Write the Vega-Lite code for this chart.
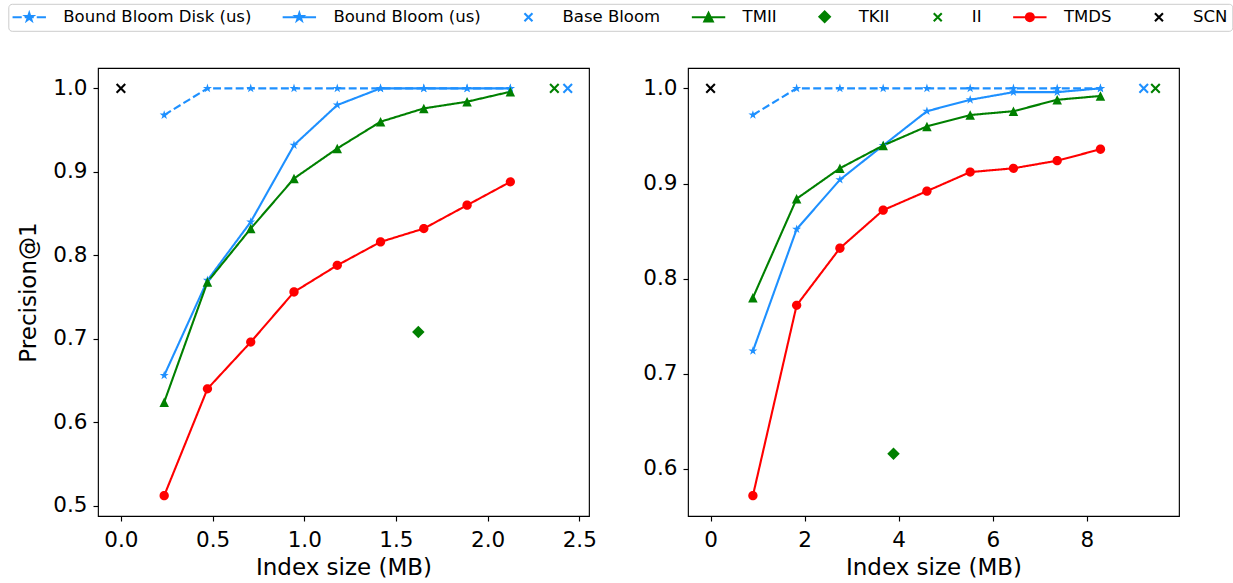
{
  "$schema": "https://vega.github.io/schema/vega-lite/v6.json",
  "background": "white",
  "padding": {"left": 7, "top": 3, "right": 0, "bottom": 0},
  "autosize": {"type": "pad"},
  "config": {
    "font": "DejaVu Sans",
    "view": {"stroke": "black", "strokeWidth": 1.15},
    "axis": {"grid": false, "domain": false, "ticks": true, "tickSize": 5, "tickWidth": 1.15, "tickColor": "black", "labelFont": "DejaVu Sans", "labelFontSize": 21.5, "labelColor": "black", "labelPadding": 6, "labelFlush": false, "labelOverlap": false, "titleFont": "DejaVu Sans", "titleFontSize": 23, "titleFontWeight": "normal", "titleColor": "black"},
    "axisX": {"labelPadding": 8, "titlePadding": 6},
    "axisY": {"titlePadding": 12}
  },
  "data": {"values": [
    {"p": "L", "s": "Bound Bloom Disk (us)", "x": 0.236, "y": 0.968},
    {"p": "L", "s": "Bound Bloom Disk (us)", "x": 0.472, "y": 1.0},
    {"p": "L", "s": "Bound Bloom Disk (us)", "x": 0.708, "y": 1.0},
    {"p": "L", "s": "Bound Bloom Disk (us)", "x": 0.944, "y": 1.0},
    {"p": "L", "s": "Bound Bloom Disk (us)", "x": 1.18, "y": 1.0},
    {"p": "L", "s": "Bound Bloom Disk (us)", "x": 1.416, "y": 1.0},
    {"p": "L", "s": "Bound Bloom Disk (us)", "x": 1.652, "y": 1.0},
    {"p": "L", "s": "Bound Bloom Disk (us)", "x": 1.888, "y": 1.0},
    {"p": "L", "s": "Bound Bloom Disk (us)", "x": 2.124, "y": 1.0},
    {"p": "L", "s": "Bound Bloom (us)", "x": 0.236, "y": 0.656},
    {"p": "L", "s": "Bound Bloom (us)", "x": 0.472, "y": 0.77},
    {"p": "L", "s": "Bound Bloom (us)", "x": 0.708, "y": 0.84},
    {"p": "L", "s": "Bound Bloom (us)", "x": 0.944, "y": 0.932},
    {"p": "L", "s": "Bound Bloom (us)", "x": 1.18, "y": 0.98},
    {"p": "L", "s": "Bound Bloom (us)", "x": 1.416, "y": 1.0},
    {"p": "L", "s": "Bound Bloom (us)", "x": 1.652, "y": 1.0},
    {"p": "L", "s": "Bound Bloom (us)", "x": 1.888, "y": 1.0},
    {"p": "L", "s": "Bound Bloom (us)", "x": 2.124, "y": 1.0},
    {"p": "L", "s": "Base Bloom", "x": 2.437, "y": 1.0},
    {"p": "L", "s": "TMII", "x": 0.236, "y": 0.624},
    {"p": "L", "s": "TMII", "x": 0.472, "y": 0.768},
    {"p": "L", "s": "TMII", "x": 0.708, "y": 0.832},
    {"p": "L", "s": "TMII", "x": 0.944, "y": 0.892},
    {"p": "L", "s": "TMII", "x": 1.18, "y": 0.928},
    {"p": "L", "s": "TMII", "x": 1.416, "y": 0.96},
    {"p": "L", "s": "TMII", "x": 1.652, "y": 0.976},
    {"p": "L", "s": "TMII", "x": 1.888, "y": 0.984},
    {"p": "L", "s": "TMII", "x": 2.124, "y": 0.996},
    {"p": "L", "s": "TKII", "x": 1.622, "y": 0.708},
    {"p": "L", "s": "II", "x": 2.364, "y": 1.0},
    {"p": "L", "s": "TMDS", "x": 0.236, "y": 0.512},
    {"p": "L", "s": "TMDS", "x": 0.472, "y": 0.64},
    {"p": "L", "s": "TMDS", "x": 0.708, "y": 0.696},
    {"p": "L", "s": "TMDS", "x": 0.944, "y": 0.756},
    {"p": "L", "s": "TMDS", "x": 1.18, "y": 0.788},
    {"p": "L", "s": "TMDS", "x": 1.416, "y": 0.816},
    {"p": "L", "s": "TMDS", "x": 1.652, "y": 0.832},
    {"p": "L", "s": "TMDS", "x": 1.888, "y": 0.86},
    {"p": "L", "s": "TMDS", "x": 2.124, "y": 0.888},
    {"p": "L", "s": "SCN", "x": 0.0, "y": 1.0},
    {"p": "R", "s": "Bound Bloom Disk (us)", "x": 0.9, "y": 0.972},
    {"p": "R", "s": "Bound Bloom Disk (us)", "x": 1.83, "y": 1.0},
    {"p": "R", "s": "Bound Bloom Disk (us)", "x": 2.75, "y": 1.0},
    {"p": "R", "s": "Bound Bloom Disk (us)", "x": 3.67, "y": 1.0},
    {"p": "R", "s": "Bound Bloom Disk (us)", "x": 4.6, "y": 1.0},
    {"p": "R", "s": "Bound Bloom Disk (us)", "x": 5.52, "y": 1.0},
    {"p": "R", "s": "Bound Bloom Disk (us)", "x": 6.44, "y": 1.0},
    {"p": "R", "s": "Bound Bloom Disk (us)", "x": 7.37, "y": 1.0},
    {"p": "R", "s": "Bound Bloom Disk (us)", "x": 8.29, "y": 1.0},
    {"p": "R", "s": "Bound Bloom (us)", "x": 0.9, "y": 0.724},
    {"p": "R", "s": "Bound Bloom (us)", "x": 1.83, "y": 0.852},
    {"p": "R", "s": "Bound Bloom (us)", "x": 2.75, "y": 0.904},
    {"p": "R", "s": "Bound Bloom (us)", "x": 3.67, "y": 0.94},
    {"p": "R", "s": "Bound Bloom (us)", "x": 4.6, "y": 0.976},
    {"p": "R", "s": "Bound Bloom (us)", "x": 5.52, "y": 0.988},
    {"p": "R", "s": "Bound Bloom (us)", "x": 6.44, "y": 0.996},
    {"p": "R", "s": "Bound Bloom (us)", "x": 7.37, "y": 0.996},
    {"p": "R", "s": "Bound Bloom (us)", "x": 8.29, "y": 1.0},
    {"p": "R", "s": "Base Bloom", "x": 9.21, "y": 1.0},
    {"p": "R", "s": "TMII", "x": 0.9, "y": 0.78},
    {"p": "R", "s": "TMII", "x": 1.83, "y": 0.884},
    {"p": "R", "s": "TMII", "x": 2.75, "y": 0.916},
    {"p": "R", "s": "TMII", "x": 3.67, "y": 0.94},
    {"p": "R", "s": "TMII", "x": 4.6, "y": 0.96},
    {"p": "R", "s": "TMII", "x": 5.52, "y": 0.972},
    {"p": "R", "s": "TMII", "x": 6.44, "y": 0.976},
    {"p": "R", "s": "TMII", "x": 7.37, "y": 0.988},
    {"p": "R", "s": "TMII", "x": 8.29, "y": 0.992},
    {"p": "R", "s": "TKII", "x": 3.89, "y": 0.616},
    {"p": "R", "s": "II", "x": 9.46, "y": 1.0},
    {"p": "R", "s": "TMDS", "x": 0.9, "y": 0.572},
    {"p": "R", "s": "TMDS", "x": 1.83, "y": 0.772},
    {"p": "R", "s": "TMDS", "x": 2.75, "y": 0.832},
    {"p": "R", "s": "TMDS", "x": 3.67, "y": 0.872},
    {"p": "R", "s": "TMDS", "x": 4.6, "y": 0.892},
    {"p": "R", "s": "TMDS", "x": 5.52, "y": 0.912},
    {"p": "R", "s": "TMDS", "x": 6.44, "y": 0.916},
    {"p": "R", "s": "TMDS", "x": 7.37, "y": 0.924},
    {"p": "R", "s": "TMDS", "x": 8.29, "y": 0.936},
    {"p": "R", "s": "SCN", "x": 0.0, "y": 1.0}
  ]},
  "spacing": 45,
  "hconcat": [
    {
      "width": 491, "height": 448,
      "transform": [{"filter": "datum.p === 'L'"}],
      "encoding": {
        "x": {"field": "x", "type": "quantitative", "scale": {"domain": [-0.125, 2.553], "nice": false, "zero": false}, "axis": {"values": [0, 0.5, 1, 1.5, 2, 2.5], "format": ".1f", "title": "Index size (MB)"}},
        "y": {"field": "y", "type": "quantitative", "scale": {"domain": [0.4876, 1.0244], "nice": false, "zero": false}, "axis": {"values": [0.5, 0.6, 0.7, 0.8, 0.9, 1.0], "format": ".1f", "title": "Precision@1"}},
        "color": {"field": "s", "type": "nominal",
          "scale": {"domain": ["Bound Bloom Disk (us)", "Bound Bloom (us)", "Base Bloom", "TMII", "TKII", "II", "TMDS", "SCN"], "range": ["#1E90FF", "#1E90FF", "#1E90FF", "#008000", "#008000", "#008000", "#FF0000", "#000000"]},
          "legend": {"title": null, "orient": "none", "legendX": -89.7, "legendY": -64.2, "direction": "horizontal", "columns": 8, "symbolSize": 100, "symbolOffset": 8.2, "labelOffset": 25.8, "columnPadding": 26.1, "rowPadding": 0, "padding": 4.5, "strokeColor": "#cccccc", "fillColor": "rgba(255,255,255,0.8)", "cornerRadius": 3.5, "labelFont": "DejaVu Sans", "labelFontSize": 16.5, "labelColor": "black", "labelLimit": 400,
            "encode": {"symbols": {"update": {
              "shape": {"signal": "datum.value === 'Bound Bloom Disk (us)' ? 'M-3.34,0L-1.5,0M-0.9,0L0.9,0M1.5,0L3.34,0M0,-0.8L0.18,-0.25L0.76,-0.25L0.29,0.09L0.47,0.65L0,0.31L-0.47,0.65L-0.29,0.09L-0.76,-0.25L-0.18,-0.25Z' : datum.value === 'Bound Bloom (us)' ? 'M-3.34,0L3.34,0M0,-0.8L0.18,-0.25L0.76,-0.25L0.29,0.09L0.47,0.65L0,0.31L-0.47,0.65L-0.29,0.09L-0.76,-0.25L-0.18,-0.25Z' : datum.value === 'TMII' ? 'M-3.34,0L3.34,0M0,-0.85L0.85,0.85L-0.85,0.85Z' : datum.value === 'TKII' ? 'M-3.34,0L-3.34,0M3.34,0L3.34,0M0,-1.05L1.05,0L0,1.05L-1.05,0Z' : datum.value === 'TMDS' ? 'M-3.34,0L3.34,0M-0.8,0A0.8,0.8,0,1,0,0.8,0A0.8,0.8,0,1,0,-0.8,0Z' : 'M-3.34,0L-3.34,0M3.34,0L3.34,0M-0.8,-0.8L0.8,0.8M-0.8,0.8L0.8,-0.8'"},
              "fill": {"signal": "scale('color', datum.value)"},
              "stroke": {"signal": "scale('color', datum.value)"},
              "strokeWidth": {"value": 2.1},
              "size": {"value": 100},
              "opacity": {"value": 1}
            }}}
          }
        }
      },
      "layer": [
        {
          "transform": [{"filter": {"field": "s", "oneOf": ["Bound Bloom Disk (us)", "Bound Bloom (us)", "TMII", "TMDS"]}}],
          "mark": {"type": "line", "strokeWidth": 2.1},
          "encoding": {"strokeDash": {"field": "s", "type": "nominal", "scale": {"domain": ["Bound Bloom Disk (us)", "Bound Bloom (us)", "TMII", "TMDS"], "range": [[7.9, 3.4], [1, 0], [1, 0], [1, 0]]}, "legend": null}}
        },
        {
          "transform": [{"filter": {"field": "s", "oneOf": ["Bound Bloom Disk (us)", "Bound Bloom (us)", "TMII", "TKII", "TMDS"]}}],
          "mark": {"type": "point", "filled": true, "size": 100, "opacity": 1},
          "encoding": {"shape": {"field": "s", "type": "nominal", "scale": {"domain": ["Bound Bloom Disk (us)", "Bound Bloom (us)", "TMII", "TKII", "TMDS"], "range": ["M0,-0.95L0.213,-0.294L0.903,-0.294L0.345,0.112L0.559,0.769L0,0.363L-0.559,0.769L-0.345,0.112L-0.903,-0.294L-0.213,-0.294Z", "M0,-0.95L0.213,-0.294L0.903,-0.294L0.345,0.112L0.559,0.769L0,0.363L-0.559,0.769L-0.345,0.112L-0.903,-0.294L-0.213,-0.294Z", "M0,-0.95L0.95,0.95L-0.95,0.95Z", "M0,-1.25L1.25,0L0,1.25L-1.25,0Z", "M-0.93,0A0.93,0.93,0,1,0,0.93,0A0.93,0.93,0,1,0,-0.93,0Z"]}, "legend": null}}
        },
        {
          "transform": [{"filter": {"field": "s", "oneOf": ["Base Bloom", "II", "SCN"]}}],
          "mark": {"type": "point", "filled": false, "shape": "M-0.86,-0.86L0.86,0.86M-0.86,0.86L0.86,-0.86", "size": 100, "strokeWidth": 2.1, "opacity": 1}
        }
      ]
    },
    {
      "width": 491, "height": 448,
      "transform": [{"filter": "datum.p === 'R'"}],
      "encoding": {
        "x": {"field": "x", "type": "quantitative", "scale": {"domain": [-0.48, 9.96], "nice": false, "zero": false}, "axis": {"values": [0, 2, 4, 6, 8], "format": "d", "title": "Index size (MB)"}},
        "y": {"field": "y", "type": "quantitative", "scale": {"domain": [0.5506, 1.0214], "nice": false, "zero": false}, "axis": {"values": [0.6, 0.7, 0.8, 0.9, 1.0], "format": ".1f", "title": null}},
        "color": {"field": "s", "type": "nominal",
          "scale": {"domain": ["Bound Bloom Disk (us)", "Bound Bloom (us)", "Base Bloom", "TMII", "TKII", "II", "TMDS", "SCN"], "range": ["#1E90FF", "#1E90FF", "#1E90FF", "#008000", "#008000", "#008000", "#FF0000", "#000000"]},
          "legend": {"title": null, "orient": "none", "legendX": -89.7, "legendY": -64.2, "direction": "horizontal", "columns": 8, "symbolSize": 100, "symbolOffset": 8.2, "labelOffset": 25.8, "columnPadding": 26.1, "rowPadding": 0, "padding": 4.5, "strokeColor": "#cccccc", "fillColor": "rgba(255,255,255,0.8)", "cornerRadius": 3.5, "labelFont": "DejaVu Sans", "labelFontSize": 16.5, "labelColor": "black", "labelLimit": 400,
            "encode": {"symbols": {"update": {
              "shape": {"signal": "datum.value === 'Bound Bloom Disk (us)' ? 'M-3.34,0L-1.5,0M-0.9,0L0.9,0M1.5,0L3.34,0M0,-0.8L0.18,-0.25L0.76,-0.25L0.29,0.09L0.47,0.65L0,0.31L-0.47,0.65L-0.29,0.09L-0.76,-0.25L-0.18,-0.25Z' : datum.value === 'Bound Bloom (us)' ? 'M-3.34,0L3.34,0M0,-0.8L0.18,-0.25L0.76,-0.25L0.29,0.09L0.47,0.65L0,0.31L-0.47,0.65L-0.29,0.09L-0.76,-0.25L-0.18,-0.25Z' : datum.value === 'TMII' ? 'M-3.34,0L3.34,0M0,-0.85L0.85,0.85L-0.85,0.85Z' : datum.value === 'TKII' ? 'M-3.34,0L-3.34,0M3.34,0L3.34,0M0,-1.05L1.05,0L0,1.05L-1.05,0Z' : datum.value === 'TMDS' ? 'M-3.34,0L3.34,0M-0.8,0A0.8,0.8,0,1,0,0.8,0A0.8,0.8,0,1,0,-0.8,0Z' : 'M-3.34,0L-3.34,0M3.34,0L3.34,0M-0.8,-0.8L0.8,0.8M-0.8,0.8L0.8,-0.8'"},
              "fill": {"signal": "scale('color', datum.value)"},
              "stroke": {"signal": "scale('color', datum.value)"},
              "strokeWidth": {"value": 2.1},
              "size": {"value": 100},
              "opacity": {"value": 1}
            }}}
          }
        }
      },
      "layer": [
        {
          "transform": [{"filter": {"field": "s", "oneOf": ["Bound Bloom Disk (us)", "Bound Bloom (us)", "TMII", "TMDS"]}}],
          "mark": {"type": "line", "strokeWidth": 2.1},
          "encoding": {"strokeDash": {"field": "s", "type": "nominal", "scale": {"domain": ["Bound Bloom Disk (us)", "Bound Bloom (us)", "TMII", "TMDS"], "range": [[7.9, 3.4], [1, 0], [1, 0], [1, 0]]}, "legend": null}}
        },
        {
          "transform": [{"filter": {"field": "s", "oneOf": ["Bound Bloom Disk (us)", "Bound Bloom (us)", "TMII", "TKII", "TMDS"]}}],
          "mark": {"type": "point", "filled": true, "size": 100, "opacity": 1},
          "encoding": {"shape": {"field": "s", "type": "nominal", "scale": {"domain": ["Bound Bloom Disk (us)", "Bound Bloom (us)", "TMII", "TKII", "TMDS"], "range": ["M0,-0.95L0.213,-0.294L0.903,-0.294L0.345,0.112L0.559,0.769L0,0.363L-0.559,0.769L-0.345,0.112L-0.903,-0.294L-0.213,-0.294Z", "M0,-0.95L0.213,-0.294L0.903,-0.294L0.345,0.112L0.559,0.769L0,0.363L-0.559,0.769L-0.345,0.112L-0.903,-0.294L-0.213,-0.294Z", "M0,-0.95L0.95,0.95L-0.95,0.95Z", "M0,-1.25L1.25,0L0,1.25L-1.25,0Z", "M-0.93,0A0.93,0.93,0,1,0,0.93,0A0.93,0.93,0,1,0,-0.93,0Z"]}, "legend": null}}
        },
        {
          "transform": [{"filter": {"field": "s", "oneOf": ["Base Bloom", "II", "SCN"]}}],
          "mark": {"type": "point", "filled": false, "shape": "M-0.86,-0.86L0.86,0.86M-0.86,0.86L0.86,-0.86", "size": 100, "strokeWidth": 2.1, "opacity": 1}
        }
      ]
    }
  ]
}
